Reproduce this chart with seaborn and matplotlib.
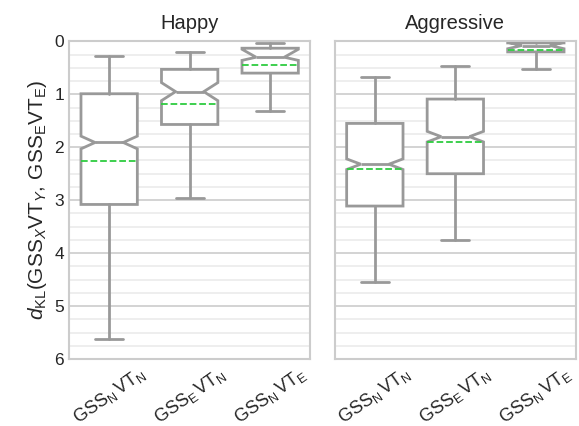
import matplotlib
matplotlib.use("Agg")
import matplotlib.pyplot as plt
import seaborn as sns
from matplotlib.ticker import MultipleLocator

# conditions on the x axis and the two emotion panels
conditions = [r"$\mathrm{GSS}_\mathrm{N}\,\mathrm{VT}_\mathrm{N}$",
              r"$\mathrm{GSS}_\mathrm{E}\,\mathrm{VT}_\mathrm{N}$",
              r"$\mathrm{GSS}_\mathrm{N}\,\mathrm{VT}_\mathrm{E}$"]
panels = ["Happy", "Aggressive"]

# box summaries (one list per panel, one value per condition)
whislo = {"Happy": [0.28, 0.21, 0.04], "Aggressive": [0.67, 0.47, 0.01]}
q1 = {"Happy": [0.99, 0.53, 0.13], "Aggressive": [1.55, 1.09, 0.03]}
med = {"Happy": [1.91, 0.95, 0.30], "Aggressive": [2.32, 1.80, 0.08]}
q3 = {"Happy": [3.08, 1.57, 0.60], "Aggressive": [3.11, 2.50, 0.20]}
whishi = {"Happy": [5.62, 2.96, 1.32], "Aggressive": [4.55, 3.76, 0.53]}
means = {"Happy": [2.26, 1.18, 0.45], "Aggressive": [2.42, 1.90, 0.16]}
ci_lo = {"Happy": [1.79, 0.78, 0.15], "Aggressive": [2.22, 1.70, 0.02]}
ci_hi = {"Happy": [2.03, 1.12, 0.36], "Aggressive": [2.42, 1.90, 0.14]}

sns.set_theme(style="whitegrid")
plt.rcParams["font.family"] = ["Liberation Sans", "DejaVu Sans"]
plt.rcParams["mathtext.fontset"] = "custom"
plt.rcParams["mathtext.rm"] = "Liberation Sans"
plt.rcParams["mathtext.it"] = "Liberation Sans:italic"

gray = "#999999"
green = "#2ecc40"

fig, axes = plt.subplots(1, 2, figsize=(5.79, 4.26), dpi=100, sharey=True)
fig.subplots_adjust(left=0.119, right=0.995, top=0.903, bottom=0.157, wspace=0.1)

for ax, panel in zip(axes, panels):
    stats = []
    for i in range(len(conditions)):
        stats.append({
            "whislo": whislo[panel][i], "q1": q1[panel][i], "med": med[panel][i],
            "q3": q3[panel][i], "whishi": whishi[panel][i], "mean": means[panel][i],
            "cilo": ci_lo[panel][i], "cihi": ci_hi[panel][i], "fliers": [],
        })
    ax.bxp(stats, positions=range(len(conditions)), widths=0.7, shownotches=True,
           showmeans=True, meanline=True, showfliers=False, patch_artist=True,
           boxprops=dict(facecolor="white", edgecolor=gray, linewidth=2),
           whiskerprops=dict(color=gray, linewidth=2),
           capprops=dict(color=gray, linewidth=2),
           medianprops=dict(color=gray, linewidth=2),
           meanprops=dict(color=green, linestyle="--", linewidth=1.3))
    ax.set_xlim(-0.5, 2.5)
    ax.set_xticks(range(len(conditions)))
    ax.set_xticklabels(conditions, rotation=35, fontsize=13)
    ax.set_title(panel, fontsize=14.5, pad=9)
    ax.yaxis.set_minor_locator(MultipleLocator(0.25))
    ax.grid(which="major", axis="y", color="#cccccc", linewidth=1.2)
    ax.grid(which="minor", axis="y", color="#ebebeb", linewidth=1.2)
    ax.grid(False, axis="x")
    ax.tick_params(axis="both", which="both", length=0)
    for s in ax.spines.values():
        s.set_color("#cccccc")
        s.set_linewidth(1.5)

axes[0].set_ylim(6, 0)
axes[0].set_yticks(range(7))
axes[0].tick_params(axis="y", labelsize=12.5)
axes[0].set_ylabel(r"$d_{\mathrm{KL}}(\mathrm{GSS}_X\mathrm{VT}_Y,\,\mathrm{GSS}_\mathrm{E}\mathrm{VT}_\mathrm{E})$",
                   fontsize=15)

fig.savefig("out.png", dpi=100)
